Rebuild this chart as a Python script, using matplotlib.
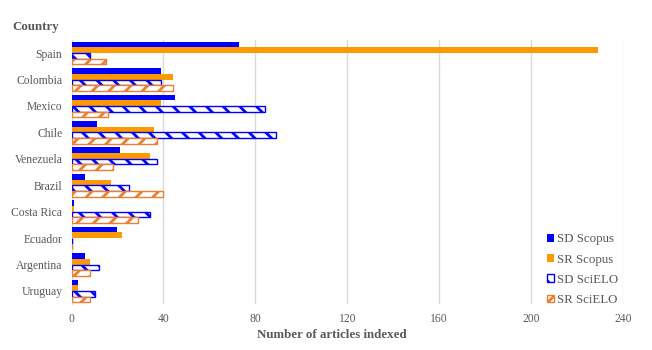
import numpy as np
import matplotlib
matplotlib.use("Agg")
import matplotlib.pyplot as plt

countries = ["Spain", "Colombia", "Mexico", "Chile", "Venezuela", "Brazil",
             "Costa Rica", "Ecuador", "Argentina", "Uruguay"]
sd_scopus = [73, 39, 45, 11, 21, 6, 1, 20, 6, 3]
sr_scopus = [229, 44, 39, 36, 34, 17, 1, 22, 8, 3]
sd_scielo = [8, 39, 84, 89, 37, 25, 34, 0, 12, 10]
sr_scielo = [15, 44, 16, 37, 18, 40, 29, 0, 8, 8]
series_names = ["SD Scopus", "SR Scopus", "SD SciELO", "SR SciELO"]
x_ticks = [0, 40, 80, 120, 160, 200, 240]

plt.rcParams['font.family'] = ['Liberation Serif', 'DejaVu Serif']
plt.rcParams['hatch.linewidth'] = 2.0
text_col = "#595959"

fig = plt.figure(figsize=(6.52, 3.5), dpi=100)
ax = fig.add_axes([0.1097, 0.131, 0.8458, 0.755])

y = np.arange(len(countries))
h = 0.215
blue = "#0000FF"
orange = "#FF9900"
orange2 = "#ED7D31"

ax.barh(y - 1.5 * h, sd_scopus, h, color=blue, label=series_names[0], zorder=3)
ax.barh(y - 0.5 * h, sr_scopus, h, color=orange, label=series_names[1], zorder=3)
ax.barh(y + 0.5 * h, sd_scielo, h, color="white", edgecolor=blue, hatch="\\\\",
        linewidth=1.0, label=series_names[2], zorder=3)
ax.barh(y + 1.5 * h, sr_scielo, h, color="white", edgecolor=orange2, hatch="//",
        linewidth=1.0, label=series_names[3], zorder=3)

ax.set_xlim(0, 240)
ax.set_ylim(len(countries) - 0.5, -0.5)
ax.set_xticks(x_ticks)
ax.set_yticks(y)
ax.set_yticklabels(countries)
ax.tick_params(length=0, labelsize=8.4, colors=text_col, pad=6.5)
ax.grid(axis="x", color="#D9D9D9", linewidth=1, zorder=0)
for s in ["top", "right", "bottom"]:
    ax.spines[s].set_visible(False)
ax.spines["left"].set_color("#D9D9D9")

fig.text(331.5 / 652, 1 - 335 / 350, "Number of articles indexed", ha="center",
         va="center", fontsize=9.3, fontweight="bold", color=text_col)
fig.text(12.7 / 652, 1 - 26.7 / 350, "Country", ha="left", va="center",
         fontsize=9.3, fontweight="bold", color=text_col)

# legend sits in the bottom right corner, just inside the 240 gridline
leg = ax.legend(loc="lower right", bbox_to_anchor=(1 - 5 / 551.5, -2 / 264),
                frameon=False, fontsize=9.3, handlelength=0.55,
                handleheight=0.55, handletextpad=0.25, labelspacing=0.64,
                borderaxespad=0.0, borderpad=0.0)
for t in leg.get_texts():
    t.set_color(text_col)

fig.savefig("out.png", dpi=100)
